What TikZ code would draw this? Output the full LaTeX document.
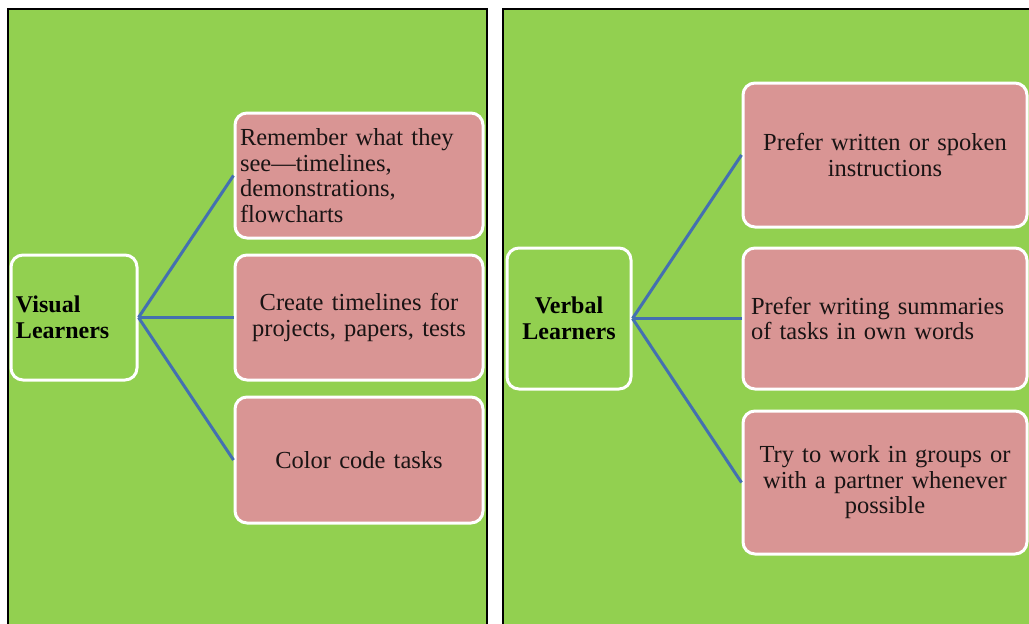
\documentclass[tikz,border=0pt]{standalone}
\usepackage{fontspec}
\setmainfont{Liberation Serif}
\definecolor{bggreen}{HTML}{92D050}
\definecolor{boxpink}{HTML}{D99594}
\definecolor{linkblue}{HTML}{4470B0}
\definecolor{txt}{HTML}{1A1414}
\begin{document}
\begin{tikzpicture}[x=1pt,y=-1pt,
  panel/.style={draw=black,line width=2.5pt,fill=bggreen},
  learner/.style={draw=white,line width=3pt,fill=bggreen,rounded corners=12pt,
    font=\fontsize{24}{25.5}\selectfont\bfseries,text=black,inner sep=0pt},
  item/.style={draw=white,line width=3pt,fill=boxpink,rounded corners=12pt,
    font=\fontsize{24.5}{25.5}\selectfont,text=txt,inner sep=0pt},
  link/.style={draw=linkblue,line width=3pt}]
\useasboundingbox (0,0) rectangle (1029,624);
\fill[white] (0,0) rectangle (1029,624);
% panels
\path[panel] (8,9) rectangle (487,640);
\path[panel] (503,9) rectangle (1040,640);
% left panel
\node[learner,minimum width=126pt,minimum height=125pt,text width=116pt,align=left] (vl) at (74,317.5) {Visual\\Learners};
\node[item,minimum width=248pt,minimum height=125pt,text width=238pt,align=left] (va) at (359,175.5) {Remember what they\\see---timelines,\\demonstrations,\\flowcharts};
\node[item,minimum width=248pt,minimum height=125pt,text width=238pt,align=center] (vb) at (359,317.5) {Create timelines for\\projects, papers, tests};
\node[item,minimum width=248pt,minimum height=126pt,text width=238pt,align=center] (vc) at (359,460) {Color code tasks};
\draw[link] (vl.east) -- (va.west);
\draw[link] (vl.east) -- (vb.west);
\draw[link] (vl.east) -- (vc.west);
% right panel
\node[learner,minimum width=124pt,minimum height=141pt,text width=116pt,align=center] (rl) at (569,318.5) {Verbal\\Learners};
\node[item,minimum width=284pt,minimum height=144pt,text width=270pt,align=center] (ra) at (885,155) {Prefer written or spoken\\instructions};
\node[item,minimum width=284pt,minimum height=141pt,text width=268pt,align=left] (rb) at (885,318.5) {Prefer writing summaries\\of tasks in own words};
\node[item,minimum width=284pt,minimum height=143pt,text width=270pt,align=center] (rc) at (885,482.5) {Try to work in groups or\\with a partner whenever\\possible};
\draw[link] (rl.east) -- (ra.west);
\draw[link] (rl.east) -- (rb.west);
\draw[link] (rl.east) -- (rc.west);
\end{tikzpicture}
\end{document}
